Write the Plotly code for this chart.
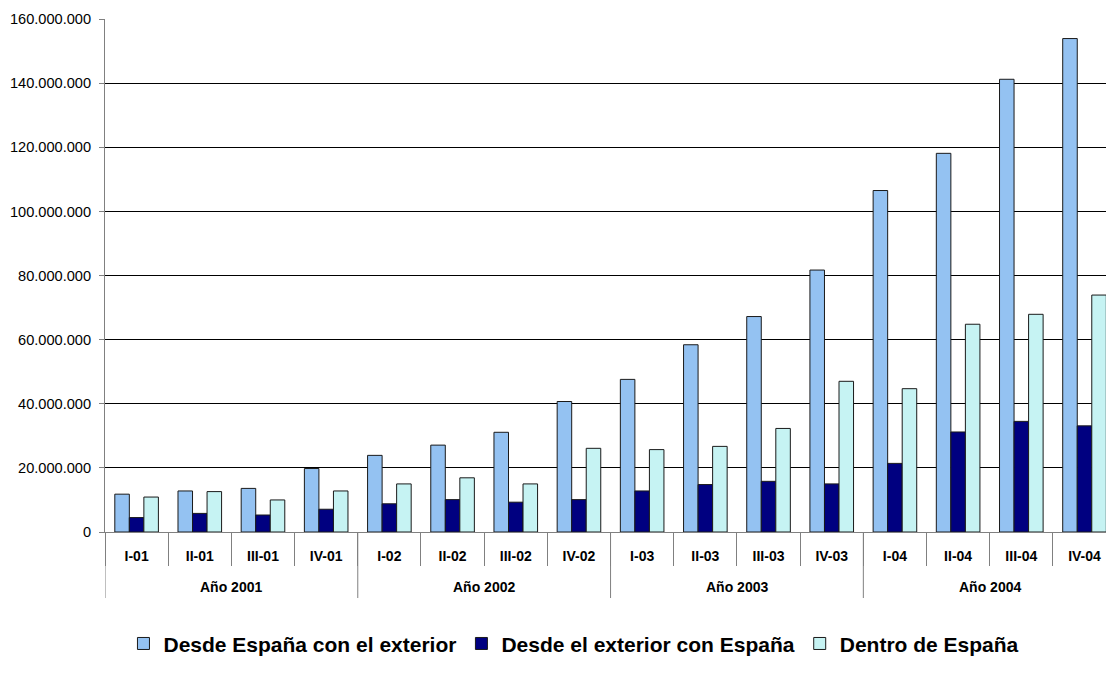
import plotly.graph_objects as go

years = ["Año 2001"] * 4 + ["Año 2002"] * 4 + ["Año 2003"] * 4 + ["Año 2004"] * 4
quarters = ["I-01", "II-01", "III-01", "IV-01",
            "I-02", "II-02", "III-02", "IV-02",
            "I-03", "II-03", "III-03", "IV-03",
            "I-04", "II-04", "III-04", "IV-04"]

desde_espana = [11.8, 12.8, 13.6, 19.8, 23.9, 27.1, 31.1, 40.7,
                47.6, 58.4, 67.2, 81.7, 106.5, 118.1, 141.2, 153.9]
desde_exterior = [4.5, 5.8, 5.3, 7.1, 8.8, 10.1, 9.3, 10.1,
                  12.8, 14.8, 15.8, 15.0, 21.4, 31.2, 34.5, 33.1]
dentro = [10.9, 12.6, 10.0, 12.8, 15.0, 16.9, 15.0, 26.1,
          25.7, 26.7, 32.3, 47.0, 44.7, 64.8, 67.9, 73.9]

series_names = ["Desde España con el exterior", "Desde el exterior con España", "Dentro de España"]
series_values = [desde_espana, desde_exterior, dentro]
colors = ["#94C2F2", "#000080", "#C6F3F3"]

FONT = "Arial, Liberation Sans, sans-serif"
GRAY = "#808080"

fig = go.Figure()
for name, vals, col in zip(series_names, series_values, colors):
    fig.add_trace(go.Bar(
        x=quarters,
        y=[v * 1_000_000 for v in vals],
        name=name,
        marker=dict(color=col, line=dict(color="#1a1a1a", width=1)),
    ))

# year group labels and dividers derived from the category list
groups = []
for i, y in enumerate(years):
    if not groups or groups[-1][0] != y:
        groups.append([y, i, i])
    else:
        groups[-1][2] = i

annotations = []
shapes = []
for name, start, end in groups:
    annotations.append(dict(
        x=(start + end) / 2, xref="x", y=-0.1072, yref="paper",
        text=name, showarrow=False, xanchor="center", yanchor="middle",
        font=dict(family=FONT, size=14, weight="bold", color="black"),
    ))
    shapes.append(dict(
        type="line", xref="x", yref="paper",
        x0=start - 0.5, x1=start - 0.5, y0=0, y1=-0.1287,
        line=dict(color=GRAY, width=1),
    ))

fig.update_layout(
    width=1106, height=688,
    margin=dict(l=105, r=0, t=19, b=156),
    paper_bgcolor="white", plot_bgcolor="white",
    separators=",.",
    barmode="group", bargap=0.31, bargroupgap=0,
    font=dict(family=FONT, color="black"),
    legend=dict(
        orientation="h", x=0.4685, xanchor="center", y=-0.218, yanchor="middle",
        font=dict(family=FONT, size=21, weight="bold", color="black"),
        itemwidth=30, tracegroupgap=0,
    ),
    showlegend=True,
    annotations=annotations,
    shapes=shapes,
)

fig.update_yaxes(
    range=[0, 160_000_000], dtick=20_000_000, tickformat=",d",
    showgrid=True, gridcolor="black", gridwidth=1,
    showline=True, linecolor=GRAY, linewidth=1,
    ticks="outside", ticklen=5, tickcolor=GRAY,
    ticklabelstandoff=5,
    tickfont=dict(family=FONT, size=14.6, color="black"),
    zeroline=False, automargin=False,
)

fig.update_xaxes(
    type="category",
    range=[-0.5, 15.34],
    showline=True, linecolor=GRAY, linewidth=1,
    ticks="outside", tickson="boundaries", ticklen=33, tickcolor=GRAY,
    ticklabelstandoff=11,
    tickfont=dict(family=FONT, size=14, weight="bold", color="black"),
    showgrid=False, automargin=False,
)

fig.write_html("out.html", config={"displayModeBar": False},
               post_script="document.body.style.margin='0';")
